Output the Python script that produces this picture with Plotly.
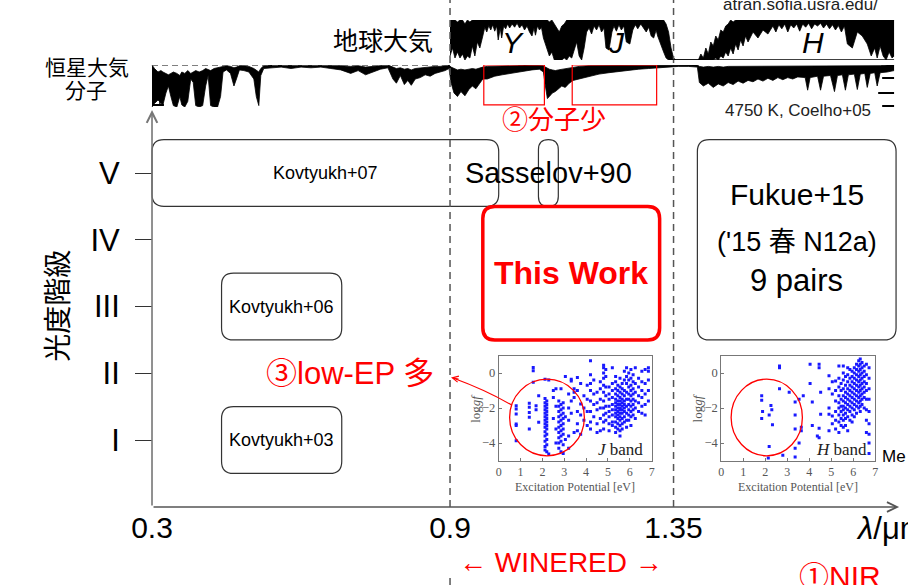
import plotly.graph_objects as go

# ---------------- data ----------------
# main axes: wavelength (um) vs luminosity class
X_TICKS = [0.3, 0.9, 1.35]
X_TICK_TEXT = ["0.3", "0.9", "1.35"]
LUM_CLASS = [1, 2, 3, 4, 5]
LUM_TEXT = ["I", "II", "III", "IV", "V"]

# studies: wavelength coverage and luminosity-class coverage
STUDIES = ["Kovtyukh+07", "Kovtyukh+06", "Kovtyukh+03", "Sasselov+90", "This Work", "Fukue+15"]
WL_MIN = [0.30, 0.44, 0.44, 1.078, 0.966, 1.398]
WL_MAX = [0.998, 0.682, 0.682, 1.118, 1.322, 1.798]
CLS_MIN = [4.5, 2.5, 0.5, 4.5, 2.5, 2.5]
CLS_MAX = [5.5, 3.5, 1.5, 5.5, 4.5, 5.5]

# telluric transmission (envelope of the dense line plot)
TELL_WL = [0.900, 0.905, 0.910, 0.915, 0.920, 0.925, 0.930, 0.935, 0.940, 0.945, 0.950, 0.955, 0.960, 0.963,
           0.966, 0.970, 0.974, 0.978, 0.982, 0.986, 0.990, 0.994, 0.997, 1.001, 1.004, 1.008, 1.012, 1.016,
           1.020, 1.025, 1.030, 1.035, 1.040, 1.045, 1.050, 1.055, 1.060, 1.065, 1.069, 1.072, 1.076, 1.080,
           1.084, 1.088, 1.092,
           1.096, 1.100, 1.105, 1.110, 1.115, 1.120, 1.125, 1.130, 1.135, 1.140, 1.145, 1.150, 1.155, 1.160,
           1.165,
           1.170, 1.175, 1.180, 1.185, 1.190, 1.195, 1.200, 1.205, 1.210, 1.214, 1.220, 1.226, 1.230, 1.235,
           1.240, 1.245, 1.250, 1.255, 1.262, 1.268, 1.273, 1.278, 1.284, 1.290, 1.295, 1.300, 1.305, 1.310,
           1.315, 1.318, 1.322, 1.326, 1.330,
           1.335, 1.340, 1.345, 1.350, 1.355, 1.400, 1.405, 1.410, 1.415, 1.420, 1.425, 1.430, 1.435, 1.440,
           1.445, 1.450, 1.455, 1.460, 1.465, 1.470, 1.475, 1.480, 1.485, 1.490, 1.495, 1.500, 1.510, 1.520,
           1.530, 1.540,
           1.550, 1.556, 1.562, 1.568, 1.574, 1.580, 1.586, 1.592, 1.598, 1.604, 1.610, 1.616, 1.622, 1.628,
           1.634, 1.640, 1.646, 1.652, 1.658, 1.664, 1.670, 1.676, 1.682, 1.688, 1.694, 1.700, 1.710, 1.720,
           1.730, 1.740, 1.748, 1.755, 1.760, 1.766, 1.772, 1.778, 1.784, 1.790, 1.794]
TELL_HI = [1.0, 1.0, 1.0, 0.95, 1.0, 1.0, 0.9, 1.0, 0.95, 1.0, 1.0, 1.0, 1.0, 1.0,
           1.0, 1.0, 1.0, 1.0, 1.0, 1.0, 1.0, 1.0, 1.0, 1.0, 1.0, 1.0, 1.0, 1.0,
           1.0, 1.0, 1.0, 1.0, 1.0, 1.0, 1.0, 1.0, 1.0, 1.0, 1.0, 1.0, 1.0, 1.0,
           1.0, 1.0, 1.0,
           1.0, 0.95, 1.0, 0.9, 0.8, 0.7, 0.85, 0.9, 1.0, 1.0, 1.0, 1.0, 1.0, 1.0,
           1.0,
           1.0, 1.0, 1.0, 1.0, 1.0, 1.0, 1.0, 1.0, 1.0, 1.0, 1.0, 1.0, 1.0, 1.0,
           1.0, 1.0, 1.0, 1.0, 1.0, 1.0, 1.0, 1.0, 1.0, 1.0, 1.0, 1.0, 1.0, 1.0,
           1.0, 1.0, 1.0, 1.0, 1.0,
           0.9, 0.7, 0.3, 0.05, 0.0, 0.0, 0.15, 0.05, 0.30, 0.15, 0.45, 0.35, 0.60, 0.50,
           0.75, 0.70, 0.85, 0.90, 1.0, 0.95, 1.0, 1.0, 1.0, 1.0, 1.0, 1.0, 1.0, 1.0,
           1.0, 1.0,
           1.0, 1.0, 1.0, 1.0, 1.0, 1.0, 1.0, 1.0, 1.0, 1.0, 1.0, 1.0, 1.0, 1.0,
           1.0, 1.0, 1.0, 1.0, 1.0, 1.0, 1.0, 1.0, 1.0, 1.0, 1.0, 1.0, 1.0, 1.0,
           1.0, 1.0, 1.0, 1.0, 1.0, 1.0, 1.0, 1.0, 1.0, 1.0, 1.0]
TELL_LO = [0.10, 0.30, 0.05, 0.20, 0.05, 0.15, 0.00, 0.10, 0.05, 0.35, 0.10, 0.45, 0.30, 0.50,
           0.60, 0.82, 0.70, 0.86, 0.75, 0.88, 0.72, 0.85, 0.50, 0.80, 0.55, 0.85, 0.78, 0.90,
           0.80, 0.90, 0.82, 0.92, 0.80, 0.88, 0.75, 0.85, 0.70, 0.60, 0.80, 0.62, 0.85, 0.75,
           0.82, 0.55, 0.40,
           0.25, 0.10, 0.20, 0.00, 0.00, 0.00, 0.00, 0.05, 0.00, 0.10, 0.05, 0.25, 0.45, 0.10,
           0.00,
           0.30, 0.70, 0.80, 0.65, 0.85, 0.75, 0.88, 0.70, 0.80, 0.30, 0.25, 0.70, 0.85, 0.72,
           0.88, 0.75, 0.85, 0.45, 0.40, 0.75, 0.88, 0.78, 0.90, 0.80, 0.70, 0.82, 0.60, 0.55,
           0.75, 0.60, 0.45, 0.35, 0.20,
           0.05, 0.00, 0.00, 0.00, 0.00, 0.00, 0.00, 0.00, 0.00, 0.00, 0.00, 0.00, 0.05, 0.00,
           0.10, 0.05, 0.20, 0.10, 0.30, 0.15, 0.40, 0.25, 0.50, 0.35, 0.60, 0.45, 0.70, 0.55,
           0.75, 0.65,
           0.85, 0.70, 0.88, 0.78, 0.90, 0.70, 0.88, 0.80, 0.90, 0.72, 0.90, 0.82, 0.92, 0.78,
           0.90, 0.85, 0.92, 0.80, 0.90, 0.78, 0.88, 0.75, 0.86, 0.70, 0.85, 0.40, 0.30, 0.70,
           0.60, 0.40, 0.10, 0.30, 0.05, 0.35, 0.10, 0.00, 0.20, 0.05, 0.10]

# stellar model spectrum (4750 K, Coelho+05), normalised flux envelope
STAR_WL = [0.300, 0.305, 0.312, 0.318, 0.322, 0.328, 0.333, 0.338, 0.343, 0.350, 0.356, 0.360, 0.366, 0.372,
           0.378, 0.383, 0.388, 0.395, 0.402, 0.408, 0.413, 0.418, 0.425, 0.432, 0.438, 0.443, 0.450, 0.458,
           0.465, 0.470, 0.476, 0.485, 0.495, 0.505, 0.510, 0.515, 0.519, 0.525, 0.540, 0.560, 0.580, 0.600,
           0.620, 0.640, 0.660, 0.680, 0.700, 0.715, 0.730, 0.745, 0.760, 0.775, 0.785, 0.792, 0.800, 0.808,
           0.815, 0.822, 0.830, 0.840, 0.850, 0.860, 0.870, 0.880, 0.890, 0.898, 0.902, 0.908, 0.915, 0.922,
           0.930, 0.938, 0.945, 0.952, 0.960, 0.966, 0.975, 0.990, 1.005, 1.020, 1.035, 1.050, 1.065, 1.080,
           1.088, 1.092, 1.096, 1.100, 1.106, 1.112, 1.118, 1.125, 1.132, 1.140, 1.148, 1.160, 1.180, 1.200,
           1.220, 1.240, 1.260, 1.280, 1.300, 1.320, 1.340, 1.360, 1.380, 1.398, 1.402, 1.410, 1.420, 1.430,
           1.440, 1.450, 1.460, 1.470, 1.480, 1.490, 1.500, 1.510, 1.520, 1.530, 1.540, 1.550, 1.560, 1.570,
           1.580, 1.590, 1.600, 1.615, 1.620, 1.625, 1.640, 1.646, 1.652, 1.666, 1.674, 1.680, 1.690, 1.696,
           1.702, 1.714, 1.720, 1.726, 1.735, 1.740, 1.746, 1.755, 1.760, 1.766, 1.780, 1.794]
STAR_HI = [1.00, 0.95, 0.90, 0.92, 0.90, 0.88, 0.86, 0.88, 0.90, 0.88, 0.85, 0.90, 0.88, 0.92,
           0.88, 0.90, 0.92, 0.90, 0.92, 0.95, 0.93, 0.92, 0.95, 0.96, 0.97, 0.98, 0.99, 0.98,
           0.96, 0.97, 0.99, 0.99, 0.98, 0.95, 0.92, 0.90, 0.95, 0.99, 1.00, 1.00, 0.99, 1.00,
           0.99, 1.00, 0.99, 0.99, 0.98, 0.99, 0.97, 0.98, 0.99, 1.00, 0.97, 0.95, 0.96, 0.94,
           0.95, 0.93, 0.95, 0.96, 0.97, 0.97, 0.98, 0.98, 0.99, 1.00, 0.97, 0.95, 0.93, 0.94,
           0.93, 0.94, 0.95, 0.94, 0.96, 0.97, 0.98, 0.98, 0.99, 0.99, 0.99, 1.00, 1.00, 1.00,
           0.99, 0.97, 0.95, 0.94, 0.93, 0.92, 0.93, 0.94, 0.95, 0.96, 0.97, 0.98, 0.99, 0.99,
           0.99, 1.00, 1.00, 1.00, 1.00, 1.00, 1.00, 1.00, 1.00, 1.00, 0.98, 0.97, 0.98, 0.97,
           0.98, 0.97, 0.98, 0.98, 0.98, 0.98, 0.99, 0.98, 0.99, 0.98, 0.99, 0.98, 0.99, 0.98,
           0.99, 0.98, 0.99, 0.98, 0.98, 0.99, 0.99, 0.98, 0.99, 0.99, 0.98, 0.99, 0.99, 0.98,
           0.99, 0.99, 0.98, 0.99, 0.99, 0.98, 0.99, 0.99, 0.98, 0.99, 1.00, 1.00]
STAR_LO = [0.40, 0.45, 0.50, 0.45, 0.43, 0.60, 0.70, 0.55, 0.42, 0.40, 0.55, 0.43, 0.40, 0.48,
           0.80, 0.75, 0.42, 0.40, 0.42, 0.70, 0.85, 0.42, 0.40, 0.40, 0.55, 0.90, 0.93, 0.88,
           0.70, 0.80, 0.93, 0.92, 0.90, 0.80, 0.55, 0.42, 0.85, 0.95, 0.96, 0.97, 0.95, 0.97,
           0.96, 0.97, 0.95, 0.93, 0.88, 0.92, 0.86, 0.90, 0.94, 0.96, 0.80, 0.74, 0.85, 0.72,
           0.78, 0.71, 0.80, 0.82, 0.86, 0.84, 0.88, 0.90, 0.92, 0.95, 0.75, 0.60, 0.55, 0.62,
           0.56, 0.65, 0.70, 0.66, 0.75, 0.80, 0.80, 0.84, 0.86, 0.88, 0.90, 0.92, 0.93, 0.94,
           0.90, 0.70, 0.52, 0.55, 0.60, 0.62, 0.66, 0.70, 0.68, 0.74, 0.78, 0.80, 0.84, 0.87,
           0.89, 0.91, 0.93, 0.94, 0.95, 0.96, 0.98, 0.98, 0.98, 0.97, 0.75, 0.70, 0.74, 0.68,
           0.73, 0.70, 0.75, 0.72, 0.77, 0.74, 0.78, 0.76, 0.80, 0.77, 0.81, 0.78, 0.82, 0.79,
           0.82, 0.80, 0.83, 0.82, 0.64, 0.82, 0.84, 0.64, 0.84, 0.85, 0.62, 0.85, 0.86, 0.64,
           0.86, 0.87, 0.65, 0.87, 0.88, 0.68, 0.88, 0.89, 0.70, 0.89, 0.90, 0.92]

# inset: Fe I lines in J band (excitation potential columns and log gf values)
J_EP = [0.80, 1.40, 1.58, 1.71, 1.83, 2.12, 2.20, 2.29, 2.50, 2.62, 2.75, 2.85, 2.95, 3.05, 3.20, 3.32,
        3.45, 3.60, 3.75, 3.90, 4.05, 4.20, 4.35, 4.50, 4.65, 4.80, 4.90, 5.05, 5.20, 5.35, 5.45, 5.55,
        5.65, 5.75, 5.85, 5.95, 6.05, 6.15, 6.25, 6.40, 6.55, 6.70, 6.85]
J_LOGGF = [
    [-1.87, -2.06, -2.34, -2.91, -3.0, -3.87],
    [-1.73, -1.96, -2.25, -2.53, -3.2],
    [0.32, 0.13, -0.53],
    [-1.87, -2.1],
    [-2.81, -1.3],
    [-0.35, -1.45, -1.7, -1.9, -2.1, -2.3, -2.5, -2.7, -2.9, -3.1, -3.35, -3.6, -3.9, -4.2, -4.4],
    [-1.6, -1.8, -2.0, -2.2, -2.4, -2.6, -2.8, -3.0, -3.2, -3.5, -3.8, -4.1, -4.5],
    [-4.63, -0.4],
    [-1.0, -1.4, -2.6],
    [-3.2, -4.0, -0.9, -1.9],
    [-1.6, -1.9, -2.2, -2.5, -2.8, -3.1, -3.4, -3.7, -4.0, -4.3],
    [-0.9, -1.8, -2.1, -2.4, -2.7, -3.0, -3.3, -3.6, -3.9, -4.5],
    [-1.7, -2.0, -2.3, -2.6, -2.9, -3.2, -3.5, -4.1, -4.6],
    [-0.2, -2.5, -3.8],
    [-1.2, -2.0, -2.7, -3.6, -4.3],
    [-0.35, -0.45, -1.6, -2.3],
    [-0.9, -1.1, -1.4, -3.4],
    [-0.25, -1.0, -2.2, -2.9, -3.3],
    [-0.6, -1.77, -2.4, -3.5],
    [-1.3, -2.0, -2.7],
    [-0.7, -1.5, -2.2, -3.0],
    [0.7, -0.1, -0.6, -1.0, -1.6, -2.2, -2.8, -3.2],
    [-0.4, -1.2, -1.8, -2.5],
    [-1.1, -1.7, -2.1, -2.9, -3.4],
    [-0.5, -0.9, -1.5, -2.0, -2.6, -3.3],
    [0.45, 0.3, 0.0, -0.3, -0.7, -1.1, -1.6, -2.0, -2.4, -2.8, -3.2],
    [0.2, -0.2, -0.8, -1.3, -1.9, -2.3, -2.7],
    [-0.8, -1.2, -1.5, -1.9, -2.2, -2.5, -2.9, -3.3],
    [0.3, -0.6, -1.0, -1.4, -1.8, -2.1, -2.4, -2.8, -3.0],
    [-0.2, -0.5, -0.9, -1.2, -1.5, -1.7, -1.9, -2.1, -2.3, -2.5, -2.8, -3.1, -3.4],
    [-0.7, -1.0, -1.3, -1.6, -1.8, -2.0, -2.2, -2.4, -2.6, -2.9, -3.2],
    [-0.3, -0.8, -1.1, -1.4, -1.6, -1.8, -2.0, -2.1, -2.3, -2.5, -2.7, -3.0, -3.3, -3.6],
    [-0.6, -0.9, -1.2, -1.5, -1.7, -1.9, -2.1, -2.3, -2.6, -2.9, -3.2],
    [0.1, -0.4, -1.0, -1.3, -1.6, -1.8, -2.0, -2.2, -2.5, -2.8],
    [0.3, -0.2, -0.6, -1.1, -1.5, -1.9, -2.3, -2.7, -3.1],
    [0.0, -0.4, -0.8, -1.2, -1.5, -1.8, -2.1, -2.4, -2.7],
    [0.2, -0.3, -0.7, -1.0, -1.3, -1.6, -1.9, -2.2, -2.5, -3.0],
    [-0.1, -0.5, -0.9, -1.2, -1.5, -1.8, -2.1, -2.4],
    [0.3, -0.6, -1.1, -1.6, -2.0, -2.6],
    [-0.3, -0.8, -1.3, -1.7, -2.2],
    [0.1, -0.5, -1.0, -1.4, -1.9, -2.3],
    [0.2, -0.6, -1.2, -1.8, -2.4],
    [0.3, 0.1, -0.4, -1.0, -1.6],
]

# inset: Fe I lines in H band
H_EP = [1.84, 1.88, 2.14, 2.18, 2.26, 2.30, 2.33, 2.65, 2.80, 3.09, 3.36, 3.54, 3.64, 3.73, 4.04, 4.14,
        4.37, 4.45, 4.52, 4.90, 5.05, 5.20, 5.35, 5.45, 5.55, 5.65, 5.75, 5.85, 5.95, 6.05, 6.15, 6.25,
        6.32, 6.40, 6.50, 6.60, 6.72]
H_LOGGF = [
    [-1.3, -1.55, -2.6],
    [-2.2],
    [-4.85],
    [-2.4, -4.2],
    [-1.85],
    [-2.1],
    [-2.95],
    [0.3, 0.4, -0.9],
    [-4.7],
    [-1.1],
    [-1.65, -2.4, -3.2, -4.3, -4.8],
    [-1.5, -4.0],
    [-3.1, -3.3],
    [-1.3],
    [0.5, -0.6],
    [-1.65, -3.0],
    [-3.6],
    [0.5, 0.3, -3.15, -3.7],
    [-1.1, -2.35],
    [-0.15, -0.9, -2.0, -2.35, -3.3],
    [-0.5, -1.2, -2.45, -2.9],
    [-0.45, -1.0, -1.6, -2.2, -2.7, -3.2],
    [0.4, -0.3, -0.8, -1.3, -1.7, -2.0, -2.4, -2.8, -3.4],
    [-0.6, -1.0, -1.5, -1.9, -2.2, -2.6, -3.0],
    [0.4, 0.0, -0.4, -0.9, -1.3, -1.6, -1.9, -2.1, -2.4, -2.7, -3.1],
    [-0.2, -0.7, -1.1, -1.4, -1.7, -2.0, -2.3, -2.6, -3.0],
    [0.3, -0.1, -0.5, -0.9, -1.2, -1.5, -1.8, -2.1, -2.5, -3.3],
    [0.2, -0.3, -0.7, -1.0, -1.3, -1.6, -1.9, -2.2, -2.7],
    [0.1, -0.2, -0.5, -0.8, -1.1, -1.4, -1.7, -2.0, -2.4, -2.8],
    [0.3, 0.0, -0.3, -0.6, -0.9, -1.2, -1.5, -1.8, -2.1, -2.5],
    [0.5, 0.2, -0.1, -0.4, -0.7, -1.0, -1.3, -1.6, -1.9, -2.3],
    [0.7, 0.4, 0.1, -0.2, -0.5, -0.8, -1.1, -1.4, -1.7, -2.0],
    [0.8, 0.5, 0.2, -0.1, -0.4, -0.7, -1.0, -1.3, -1.6, -1.9, -2.2],
    [0.6, 0.3, 0.0, -0.3, -0.6, -0.9, -1.2, -1.5, -1.8],
    [0.4, 0.1, -0.2, -0.5, -0.8, -1.1, -1.4, -2.0],
    [0.5, -0.1, -0.6, -1.0, -1.5, -2.1, -2.7, -3.4],
    [0.3, -0.3, -0.9, -1.5, -2.2, -2.9, -3.5, -4.0, -4.6],
]

# ---------------- geometry helpers ----------------
W, H = 908, 585
PX_PER_UM = 500.0
PX_PER_CLASS = 66.75
SANS = "Liberation Sans, Noto Sans CJK JP, sans-serif"
SERIF = "Liberation Serif, serif"
RED = "#ff0000"


def px2x(px):
    return px / W


def py2y(py):
    return 1 - py / H


def vx(px):  # pixel -> wavelength
    return px / PX_PER_UM


def vy(py):  # pixel -> luminosity class
    return 1 + (440 - py) / PX_PER_CLASS


def flatten(cols, vals):
    xs, ys = [], []
    for c, v in zip(cols, vals):
        for y in v:
            xs.append(c)
            ys.append(y)
    return xs, ys


def rrect(x0, x1, y0, y1, r_px):
    rx = r_px / PX_PER_UM
    ry = r_px / PX_PER_CLASS
    return (f"M {x0+rx},{y1} L {x1-rx},{y1} Q {x1},{y1} {x1},{y1-ry} "
            f"L {x1},{y0+ry} Q {x1},{y0} {x1-rx},{y0} L {x0+rx},{y0} "
            f"Q {x0},{y0} {x0},{y0+ry} L {x0},{y1-ry} Q {x0},{y1} {x0+rx},{y1} Z")


fig = go.Figure()

# ---------------- spectra ----------------
fig.add_trace(go.Scatter(x=TELL_WL, y=TELL_LO, xaxis="x", yaxis="y2", mode="lines",
                         line=dict(color="black", width=0.8), hoverinfo="skip", showlegend=False))
fig.add_trace(go.Scatter(x=TELL_WL, y=TELL_HI, xaxis="x", yaxis="y2", mode="lines", fill="tonexty",
                         fillcolor="black", line=dict(color="black", width=0.8), hoverinfo="skip",
                         showlegend=False))
fig.add_trace(go.Scatter(x=STAR_WL, y=STAR_LO, xaxis="x", yaxis="y3", mode="lines",
                         line=dict(color="black", width=0.8), hoverinfo="skip", showlegend=False))
fig.add_trace(go.Scatter(x=STAR_WL, y=STAR_HI, xaxis="x", yaxis="y3", mode="lines", fill="tonexty",
                         fillcolor="black", line=dict(color="black", width=0.8), hoverinfo="skip",
                         showlegend=False))

# ---------------- insets ----------------
jx, jy = flatten(J_EP, J_LOGGF)
hx, hy = flatten(H_EP, H_LOGGF)
mk = dict(symbol="square", size=3, color="rgb(25,25,255)", line=dict(width=0))
fig.add_trace(go.Scatter(x=jx, y=jy, xaxis="x4", yaxis="y4", mode="markers", marker=mk, showlegend=False))
fig.add_trace(go.Scatter(x=hx, y=hy, xaxis="x5", yaxis="y5", mode="markers", marker=mk, showlegend=False))

inset_x = dict(range=[0, 7], dtick=1, showline=True, mirror=True, linecolor="#777", linewidth=1,
               ticks="inside", ticklen=3, tickcolor="#777", showgrid=False, zeroline=False,
               tickfont=dict(family=SERIF, size=12, color="#555"))
inset_y = dict(range=[-5, 1], tickvals=[-4, -2, 0], showline=True, mirror=True, linecolor="#777",
               linewidth=1, ticks="inside", ticklen=3, tickcolor="#777", showgrid=False, zeroline=False,
               tickfont=dict(family=SERIF, size=12.5, color="#555"))
ydom = [py2y(460.5), py2y(355.5)]

fig.update_layout(
    width=W, height=H, margin=dict(l=0, r=0, t=0, b=0),
    paper_bgcolor="white", plot_bgcolor="white", showlegend=False,
    xaxis=dict(domain=[0, 1], range=[0, W / PX_PER_UM], anchor="free", position=py2y(507),
               tickvals=X_TICKS, ticktext=X_TICK_TEXT, ticks="",
               showgrid=False, zeroline=False, showline=False,
               tickfont=dict(family=SANS, size=30, color="black")),
    yaxis=dict(domain=[0, 1], range=[vy(585), vy(0)], anchor="free", position=px2x(150),
               tickvals=LUM_CLASS, ticktext=LUM_TEXT, ticks="outside", ticklen=17, tickwidth=1.2,
               tickcolor="#333", ticklabelstandoff=9, showgrid=False, zeroline=False, showline=False,
               tickfont=dict(family=SANS, size=31, color="black")),
    yaxis2=dict(domain=[py2y(60), py2y(20)], range=[0, 1], visible=False, anchor="free", position=0),
    yaxis3=dict(domain=[py2y(107), py2y(65)], range=[0.4, 1.0], visible=False, anchor="free", position=0),
    xaxis4=dict(domain=[px2x(499), px2x(653)], anchor="y4", **inset_x),
    yaxis4=dict(domain=ydom, anchor="x4", **inset_y),
    xaxis5=dict(domain=[px2x(723), px2x(878)], anchor="y5", **inset_x),
    yaxis5=dict(domain=ydom, anchor="x5", **inset_y),
)

shapes = []
# study boxes
for name, a, b, c, d in zip(STUDIES, WL_MIN, WL_MAX, CLS_MIN, CLS_MAX):
    r = 10 if name == "Sasselov+90" else 12
    if name == "This Work":
        line = dict(color=RED, width=3.5)
    else:
        line = dict(color="#333", width=1.2)
    shapes.append(dict(type="path", xref="x", yref="y", path=rrect(a, b, c, d, r), line=line,
                       fillcolor="rgba(0,0,0,0)"))
# dashed WINERED limits
for lam in (0.9, 1.35):
    shapes.append(dict(type="line", xref="x", yref="paper", x0=lam, x1=lam, y0=py2y(507), y1=1,
                       line=dict(color="#555", width=1.5, dash="7px,5px")))
shapes.append(dict(type="line", xref="x", yref="paper", x0=0.9, x1=0.9, y0=0, y1=py2y(575),
                   line=dict(color="#555", width=1.5, dash="7px,5px")))
# stellar continuum reference (dashed) and telluric zero line
shapes.append(dict(type="line", xref="x", yref="y3", x0=0.3, x1=0.9, y0=1.0, y1=1.0,
                   line=dict(color="#555", width=1.3, dash="6px,4px")))
shapes.append(dict(type="line", xref="x", yref="y2", x0=1.346, x1=1.794, y0=0, y1=0,
                   line=dict(color="black", width=1.6)))
# stellar panel tick marks
for py, x0, x1 in ((77, 150, 162), (92, 150, 162), (105, 150, 162)):
    shapes.append(dict(type="line", xref="paper", yref="paper", x0=px2x(x0), x1=px2x(x1),
                       y0=py2y(py), y1=py2y(py), line=dict(color="black", width=2)))
for py, x0, x1 in ((78, 885, 897), (93, 881, 897), (106, 885, 897)):
    shapes.append(dict(type="line", xref="paper", yref="paper", x0=px2x(x0), x1=px2x(x1),
                       y0=py2y(py), y1=py2y(py), line=dict(color="black", width=2)))
shapes.append(dict(type="line", xref="paper", yref="paper", x0=px2x(158), x1=px2x(158),
                   y0=py2y(76), y1=py2y(106), line=dict(color="black", width=1.5)))
# red boxes highlighting molecule-poor regions
for a, b in ((0.968, 1.090), (1.146, 1.316)):
    shapes.append(dict(type="rect", xref="x", yref="y3", x0=a, x1=b, y0=0.43, y1=1.0,
                       line=dict(color=RED, width=1.2)))
# circles on insets
shapes.append(dict(type="circle", xref="x4", yref="y4", x0=0.5, x1=3.92, y0=-4.73, y1=-0.35,
                   line=dict(color=RED, width=1.3)))
shapes.append(dict(type="circle", xref="x5", yref="y5", x0=0.45, x1=3.69, y0=-4.73, y1=-0.35,
                   line=dict(color=RED, width=1.3)))
# curved red arrow to low-EP label
shapes.append(dict(type="path", xref="paper", yref="paper",
                   path=f"M {px2x(512)},{py2y(405)} Q {px2x(486)},{py2y(390)} {px2x(453)},{py2y(378)}",
                   line=dict(color=RED, width=1.2)))
fig.update_layout(shapes=shapes)

ann = []


def text(t, px, py, size, color="black", family=SANS, xa="center", ya="middle", angle=0):
    ann.append(dict(text=t, x=px2x(px), y=py2y(py), xref="paper", yref="paper", showarrow=False,
                    xanchor=xa, yanchor=ya, textangle=angle,
                    font=dict(family=family, size=size, color=color)))


# axes arrows
ann.append(dict(x=vx(902), y=vy(507), ax=0.3, ay=vy(507), xref="x", yref="y", axref="x", ayref="y",
                showarrow=True, arrowhead=5, arrowsize=1.3, arrowwidth=1.5, arrowcolor="#555", text=""))
ann.append(dict(x=0.3, y=vy(110), ax=0.3, ay=vy(507), xref="x", yref="y", axref="x", ayref="y",
                showarrow=True, arrowhead=5, arrowsize=1.3, arrowwidth=1.6, arrowcolor="#777", text=""))
ann.append(dict(x=vx(451), y=vy(377.5), ax=9, ay=2, xref="x", yref="y", showarrow=True, arrowhead=5,
                arrowsize=1, arrowwidth=1.2, arrowcolor=RED, text=""))

text("地球大気", 383, 41, 25)
text("恒星大気", 85, 67, 21)
text("分子", 84, 90, 21)
text("atran.sofia.usra.edu/", 803, 5, 17, color="#222")
text("<i>Y</i>", 513, 43, 30)
text("<i>J</i>", 618, 43, 30)
text("<i>H</i>", 815, 43, 30)
text("②分子少", 555, 120, 26, color=RED)
text("4750 K, Coelho+05", 800, 110, 17, color="#222")

for name, a, b, c, d in zip(STUDIES, WL_MIN, WL_MAX, CLS_MIN, CLS_MAX):
    cx = (a + b) / 2 * PX_PER_UM
    cy = 440 - ((c + d) / 2 - 1) * PX_PER_CLASS
    if name.startswith("Kovtyukh"):
        text(name, cx, cy, 18)
    elif name == "Sasselov+90":
        text(name, cx, cy, 29)
    elif name == "This Work":
        text("<b>This Work</b>", cx, cy, 32, color=RED)
    else:
        text("Fukue+15", cx, 195, 30)
        text("('15 春 N12a)", cx, 242, 27)
        text("9 pairs", cx, 280, 31)

text("③low-EP 多", 349, 373, 31, color=RED)
text("光度階級", 55, 306, 28, angle=-90)
text("← WINERED →", 562, 562, 28, color=RED)
text("<i>λ</i>/μm", 857, 528, 31, xa="left")
text("①NIR", 799, 576, 30, color=RED, xa="left")
text("Me", 883, 456, 17, xa="left")

# inset labels
text("Excitation Potential [eV]", 576, 487, 12, color="#555", family=SERIF)
text("Excitation Potential [eV]", 800, 487, 12, color="#555", family=SERIF)
text("log<i>gf</i>", 475, 408, 13, color="#555", family=SERIF, angle=-90)
text("log<i>gf</i>", 699, 408, 13, color="#555", family=SERIF, angle=-90)
ann.append(dict(text="<i>J</i> band", x=6.7, y=-4.35, xref="x4", yref="y4", showarrow=False,
                xanchor="right", font=dict(family=SERIF, size=17, color="#222")))
ann.append(dict(text="<i>H</i> band", x=6.7, y=-4.35, xref="x5", yref="y5", showarrow=False,
                xanchor="right", font=dict(family=SERIF, size=17, color="#222")))

fig.update_layout(annotations=ann)
fig.write_html("out.html")
